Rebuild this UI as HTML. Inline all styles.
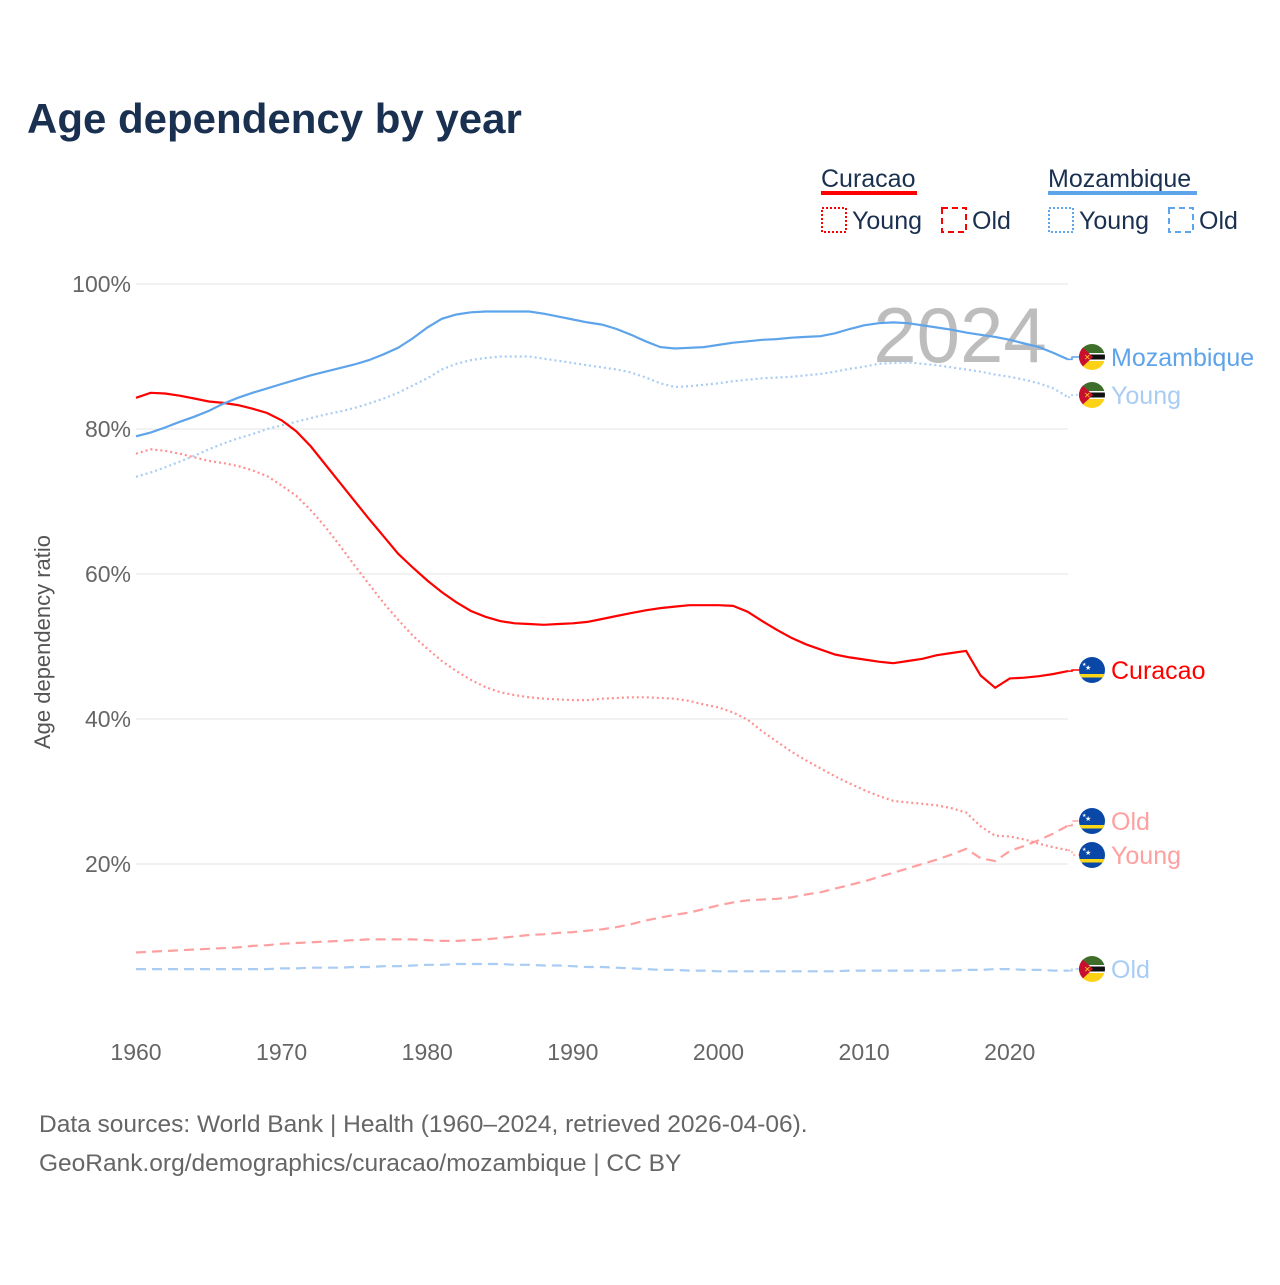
<!DOCTYPE html>
<html><head><meta charset="utf-8">
<style>
html,body{margin:0;padding:0;background:#fff;}
body{width:1280px;height:1280px;overflow:hidden;font-family:"Liberation Sans",sans-serif;}
</style></head>
<body>
<svg id="chart" width="1280" height="1280" xmlns="http://www.w3.org/2000/svg">
<defs>
<clipPath id="cc"><circle cx="0" cy="0" r="13"/></clipPath>
<g id="flag-moz">
 <g clip-path="url(#cc)">
  <rect x="-13" y="-13" width="26" height="9" fill="#3f6e2a"/>
  <rect x="-13" y="-4" width="26" height="1.5" fill="#fff"/>
  <rect x="-13" y="-2.5" width="26" height="5" fill="#111"/>
  <rect x="-13" y="2.5" width="26" height="1.5" fill="#fff"/>
  <rect x="-13" y="4" width="26" height="9" fill="#fcd116"/>
  <polygon points="-13,-13 1,0 -13,13" fill="#c8102e"/>
  <text x="-8" y="3" font-size="8" fill="#fcd116">✕</text>
 </g>
</g>
<g id="flag-cur">
 <g clip-path="url(#cc)">
  <rect x="-13" y="-13" width="26" height="26" fill="#0a48a8"/>
  <rect x="-13" y="4" width="26" height="3.5" fill="#f9d616"/>
  <text x="-7" y="0" font-size="7" fill="#fff">★</text>
  <text x="-10" y="-4" font-size="5" fill="#fff">★</text>
 </g>
</g>
</defs>
<text x="27" y="133" font-size="42" font-weight="bold" fill="#1a3050" font-family="Liberation Sans, sans-serif">Age dependency by year</text>
<g id="legend" font-size="25" fill="#1a3050">
 <text x="821" y="187">Curacao</text>
 <rect x="821" y="191" width="96" height="4" fill="#f00"/>
 <rect x="822" y="208" width="24" height="24" fill="none" stroke="#f00" stroke-width="2" stroke-dasharray="2,2"/>
 <text x="852" y="229">Young</text>
 <rect x="942" y="208" width="24" height="24" fill="none" stroke="#f00" stroke-width="2" stroke-dasharray="6,4"/>
 <text x="972" y="229">Old</text>
 <text x="1048" y="187">Mozambique</text>
 <rect x="1048" y="191" width="149" height="4" fill="#5ea4ea"/>
 <rect x="1049" y="208" width="24" height="24" fill="none" stroke="#5ea4ea" stroke-width="2" stroke-dasharray="2,2"/>
 <text x="1079" y="229">Young</text>
 <rect x="1169" y="208" width="24" height="24" fill="none" stroke="#5ea4ea" stroke-width="2" stroke-dasharray="6,4"/>
 <text x="1199" y="229">Old</text>
</g>
<g id="grid"></g>
<text x="960" y="362" font-size="78" fill="#bdbdbd" text-anchor="middle">2024</text>
<text transform="translate(50,642) rotate(-90)" font-size="22" fill="#555" text-anchor="middle">Age dependency ratio</text>
<g id="series"></g>
<g id="labels"></g>
<text x="39" y="1132" font-size="24.5" fill="#666">Data sources: World Bank | Health (1960–2024, retrieved 2026-04-06).</text>
<text x="39" y="1171" font-size="24.5" fill="#666">GeoRank.org/demographics/curacao/mozambique | CC BY</text>
</svg>
<script>
const years = [];
for (let y = 1960; y <= 2024; y++) years.push(y);
const yTicks = [20, 40, 60, 80, 100];
const xTicks = [1960, 1970, 1980, 1990, 2000, 2010, 2020];
const mozTotal = [79,79.5,80.2,81,81.7,82.5,83.5,84.3,85,85.6,86.2,86.8,87.4,87.9,88.4,88.9,89.5,90.3,91.2,92.5,94,95.2,95.8,96.1,96.2,96.2,96.2,96.2,95.9,95.5,95.1,94.7,94.4,93.8,93,92.1,91.3,91.1,91.2,91.3,91.6,91.9,92.1,92.3,92.4,92.6,92.7,92.8,93.2,93.8,94.3,94.6,94.7,94.6,94.3,94,93.7,93.3,93,92.7,92.3,91.8,91.3,90.5,89.6];
const mozYoung = [73.4,74,74.7,75.5,76.3,77.2,78,78.7,79.3,80,80.5,81,81.5,82,82.4,82.9,83.5,84.2,85,86,87,88.2,89,89.5,89.8,90,90,90,89.7,89.4,89.1,88.8,88.5,88.2,87.8,87.1,86.3,85.8,85.9,86.1,86.3,86.6,86.8,87,87.1,87.2,87.4,87.6,87.9,88.3,88.6,89,89.1,89.2,89,88.8,88.5,88.2,87.9,87.5,87.2,86.8,86.3,85.6,84.4];
const mozOld = [5.5,5.5,5.5,5.5,5.5,5.5,5.5,5.5,5.5,5.5,5.6,5.6,5.7,5.7,5.7,5.8,5.8,5.9,5.9,6,6.1,6.1,6.2,6.2,6.2,6.2,6.1,6.1,6,6,5.9,5.8,5.8,5.7,5.6,5.5,5.4,5.4,5.3,5.3,5.2,5.2,5.2,5.2,5.2,5.2,5.2,5.2,5.2,5.3,5.3,5.3,5.3,5.3,5.3,5.3,5.3,5.4,5.4,5.5,5.5,5.4,5.4,5.3,5.3];
const curTotal = [84.3,85,84.9,84.6,84.2,83.8,83.6,83.3,82.8,82.2,81.2,79.7,77.6,75.1,72.6,70.1,67.6,65.2,62.8,60.9,59.1,57.5,56.1,54.9,54.1,53.5,53.2,53.1,53,53.1,53.2,53.4,53.8,54.2,54.6,55,55.3,55.5,55.7,55.7,55.7,55.6,54.8,53.5,52.3,51.2,50.3,49.6,48.9,48.5,48.2,47.9,47.7,48,48.3,48.8,49.1,49.4,46,44.3,45.6,45.7,45.9,46.2,46.6];
const curYoung = [76.6,77.2,77,76.6,76.1,75.6,75.3,74.9,74.3,73.5,72.2,70.8,68.8,66.5,63.9,61.2,58.6,56,53.7,51.5,49.7,48,46.6,45.4,44.4,43.7,43.3,43,42.8,42.7,42.6,42.6,42.8,42.9,43,43,42.9,42.8,42.5,42,41.6,40.9,39.9,38.3,36.9,35.5,34.3,33.2,32.1,31.1,30.2,29.4,28.7,28.5,28.3,28.1,27.7,27.1,25.2,23.9,23.8,23.4,22.8,22.3,21.9];
const curOld = [7.8,7.9,8,8.1,8.2,8.3,8.4,8.5,8.7,8.8,9,9.1,9.2,9.3,9.4,9.5,9.6,9.6,9.6,9.6,9.5,9.4,9.4,9.5,9.6,9.8,10,10.2,10.3,10.5,10.6,10.8,11,11.3,11.7,12.2,12.6,13,13.3,13.8,14.3,14.7,15,15.1,15.2,15.4,15.8,16.1,16.6,17.1,17.6,18.2,18.8,19.4,20,20.6,21.3,22.1,20.8,20.4,21.8,22.5,23.3,24.2,25.3];

const NS = "http://www.w3.org/2000/svg";
const X0 = 136, X1 = 1068, Y0 = 1009, YPER = 7.25;
const xs = y => X0 + (y - 1960) * (X1 - X0) / 64;
const ys = v => Y0 - v * YPER;
function mk(tag, attrs, parent) { const e = document.createElementNS(NS, tag); for (const k in attrs) e.setAttribute(k, attrs[k]); parent.appendChild(e); return e; }

const grid = document.getElementById('grid');
yTicks.forEach(t => {
  const l = mk('line', {x1: 136, x2: 1068, y1: ys(t), y2: ys(t), stroke: '#e6e6e6', 'stroke-width': 1}, grid);
  
  
  const tx = mk('text', {x: 131, y: ys(t) + 8, 'font-size': 23, fill: '#666', 'text-anchor': 'end'}, grid);
  tx.textContent = t + '%';
  
  
});
xTicks.forEach(t => {
  const tx = mk('text', {x: xs(t), y: 1060, 'font-size': 23, fill: '#666', 'text-anchor': 'middle'}, grid);
  tx.textContent = t;
  
  
});

const series = document.getElementById('series');
function line(vals, color, dash, name) {
  const d = vals.map((v, i) => (i ? 'L' : 'M') + xs(years[i]).toFixed(1) + ',' + ys(v).toFixed(1)).join('');
  const p = mk('path', {d: d, fill: 'none', stroke: color, 'stroke-width': 2.2, 'stroke-dasharray': dash}, series);
  
  
}
line(curOld, '#ffa0a0', '10,6', 'curacao-old-line');
line(mozOld, '#a8ccf4', '10,6', 'mozambique-old-line');
line(curYoung, '#ff9090', '2,3', 'curacao-young-line');
line(mozYoung, '#a8ccf4', '2,3', 'mozambique-young-line');
line(curTotal, '#ff0000', 'none', 'curacao-total-line');
line(mozTotal, '#5ea4ea', 'none', 'mozambique-total-line');

const labels = document.getElementById('labels');
const lbls = [
  {v: mozTotal[64], ly: 357, text: 'Mozambique', color: '#5ea4ea', flag: 'flag-moz', dash: 'none', name: 'mozambique-end-label'},
  {v: mozYoung[64], ly: 395, text: 'Young', color: '#a8ccf4', flag: 'flag-moz', dash: '2,3', name: 'mozambique-young-end-label'},
  {v: curTotal[64], ly: 670, text: 'Curacao', color: '#ff0000', flag: 'flag-cur', dash: 'none', name: 'curacao-end-label'},
  {v: curOld[64], ly: 821, text: 'Old', color: '#ffa0a0', flag: 'flag-cur', dash: '6,3', name: 'curacao-old-end-label'},
  {v: curYoung[64], ly: 855, text: 'Young', color: '#ffa0a0', flag: 'flag-cur', dash: '2,3', name: 'curacao-young-end-label'},
  {v: mozOld[64], ly: 969, text: 'Old', color: '#a8ccf4', flag: 'flag-moz', dash: '6,3', name: 'mozambique-old-end-label'}
];
lbls.forEach(o => {
  const g = mk('g', {}, labels);
  
  
  const y1 = ys(o.v);
  mk('path', {d: `M1068,${y1}L1072,${y1}L1072,${o.ly}L1079,${o.ly}`, fill: 'none', stroke: o.color, 'stroke-width': 1.5, 'stroke-dasharray': o.dash}, g);
  mk('use', {href: '#' + o.flag, x: 1092, y: o.ly}, g);
  const t = mk('text', {x: 1111, y: o.ly + 9, 'font-size': 25, fill: o.color}, g);
  t.textContent = o.text;
});
</script>
</body></html>
